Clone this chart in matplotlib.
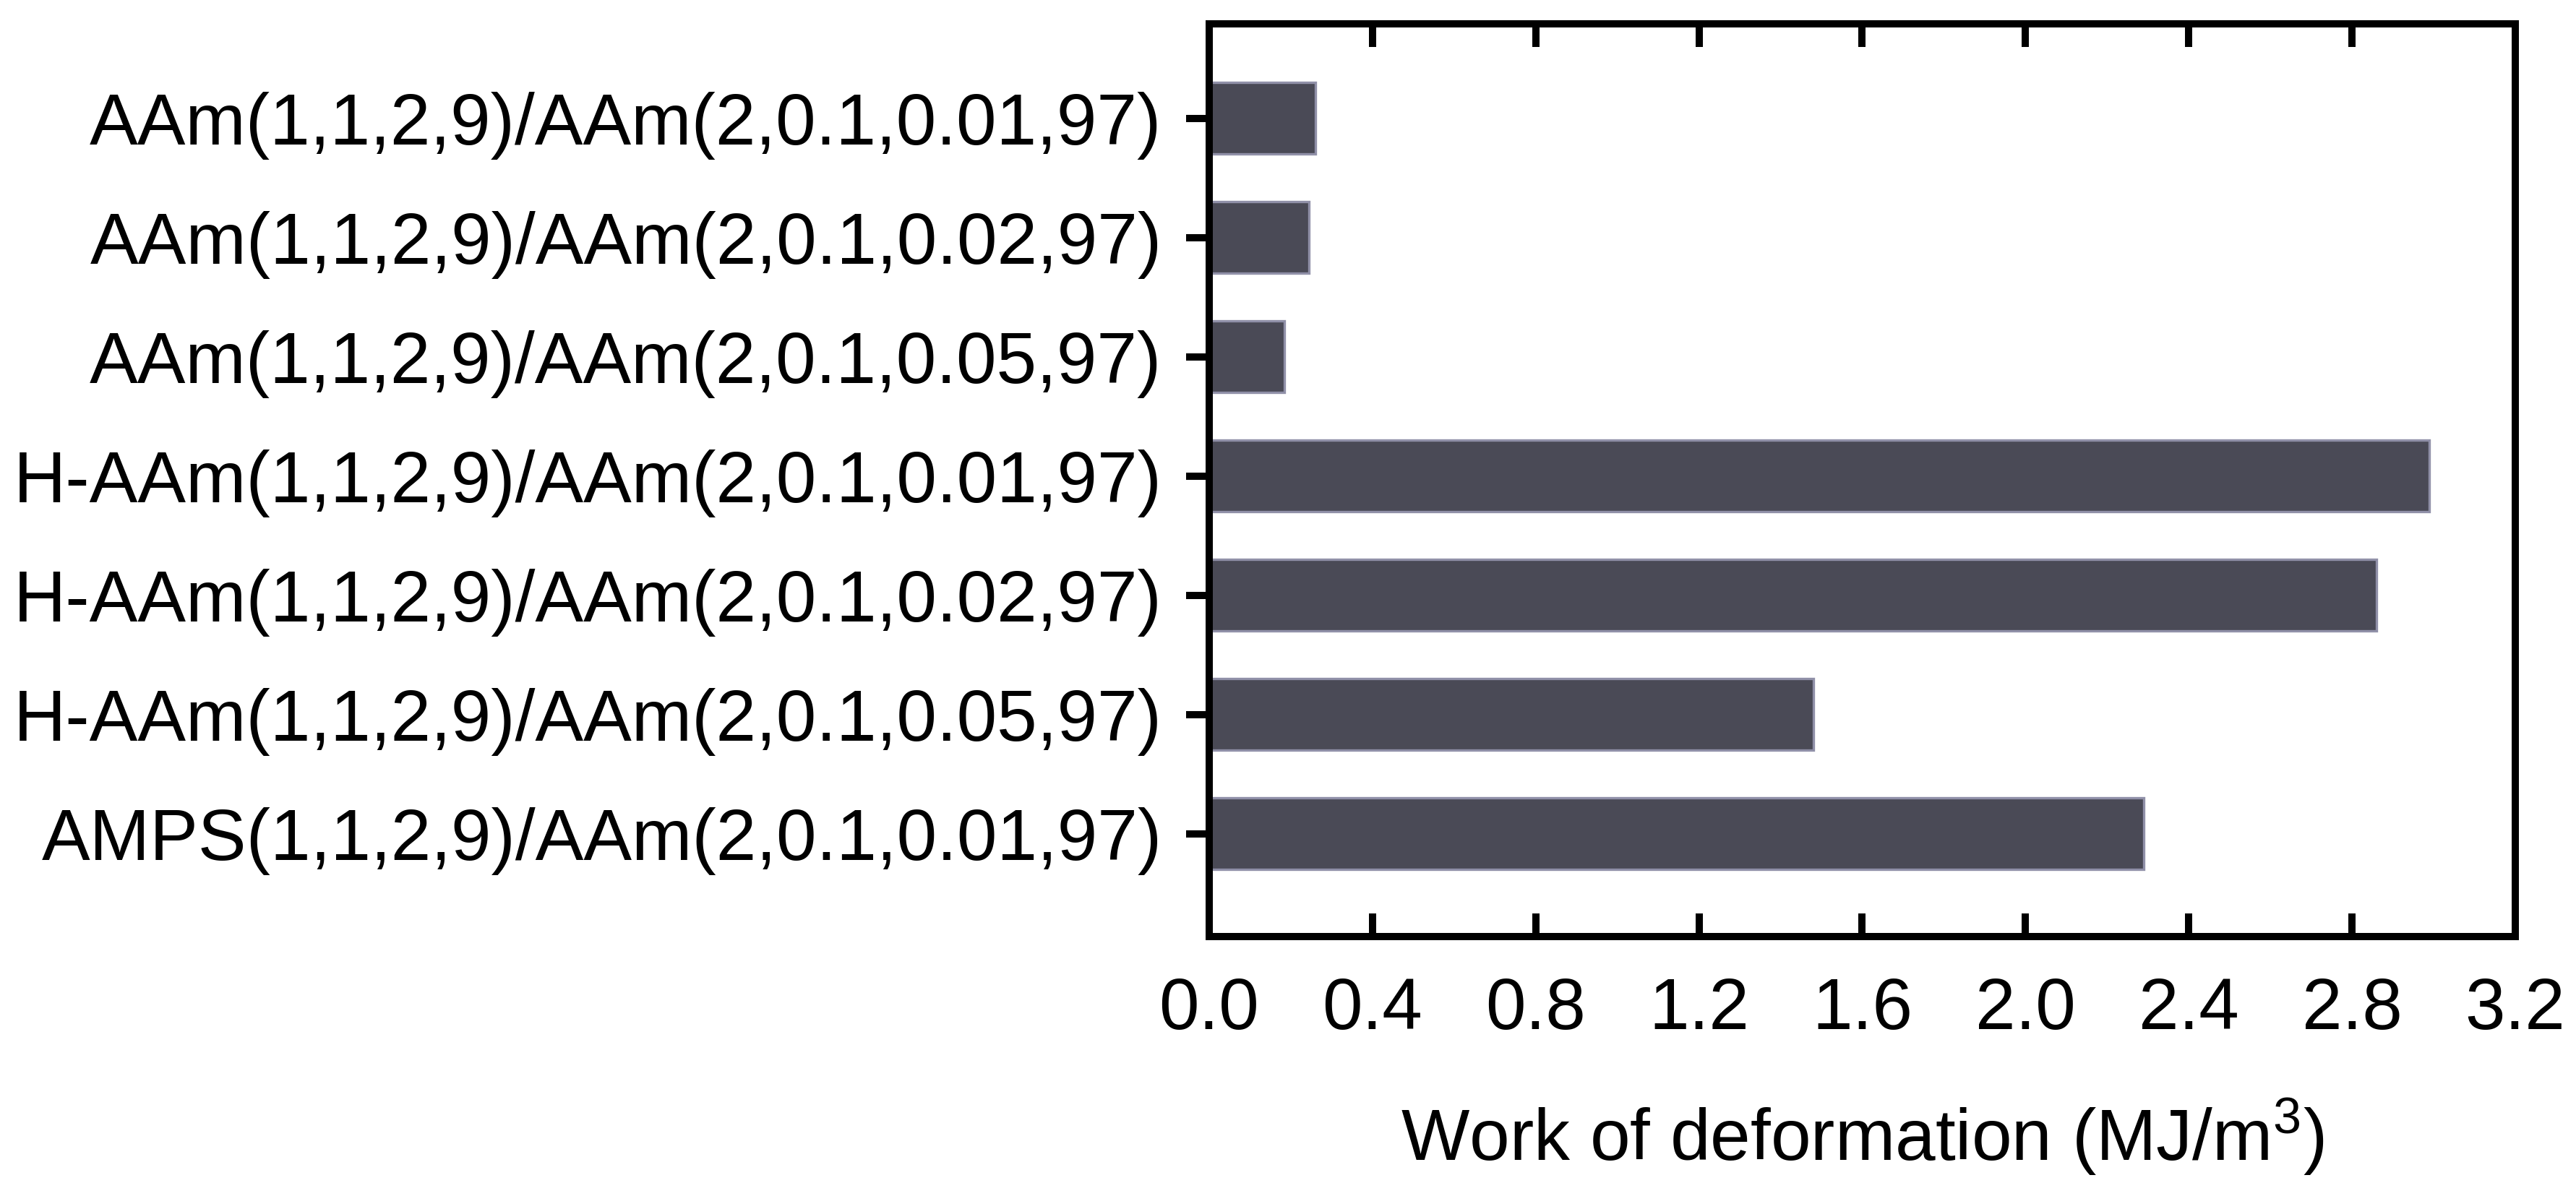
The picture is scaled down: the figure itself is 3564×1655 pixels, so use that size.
import matplotlib
matplotlib.use("Agg")
import matplotlib.pyplot as plt

plt.rcParams["font.family"] = ["Liberation Sans", "DejaVu Sans"]
plt.rcParams["mathtext.fontset"] = "custom"
plt.rcParams["mathtext.rm"] = "Liberation Sans"
plt.rcParams["mathtext.it"] = "Liberation Sans"

# categories from top to bottom
samples = [
    "AAm(1,1,2,9)/AAm(2,0.1,0.01,97)",
    "AAm(1,1,2,9)/AAm(2,0.1,0.02,97)",
    "AAm(1,1,2,9)/AAm(2,0.1,0.05,97)",
    "H-AAm(1,1,2,9)/AAm(2,0.1,0.01,97)",
    "H-AAm(1,1,2,9)/AAm(2,0.1,0.02,97)",
    "H-AAm(1,1,2,9)/AAm(2,0.1,0.05,97)",
    "AMPS(1,1,2,9)/AAm(2,0.1,0.01,97)",
]
work = [0.26, 0.245, 0.185, 2.99, 2.86, 1.48, 2.29]
xticks = [0.0, 0.4, 0.8, 1.2, 1.6, 2.0, 2.4, 2.8, 3.2]

fig = plt.figure(figsize=(17.82, 8.275), dpi=200)
ax = fig.add_axes([0.4694, 0.217, 0.5070, 0.763])

ypos = list(range(len(samples) - 1, -1, -1))
ax.barh(ypos, work, height=0.6, color="#4a4a56", edgecolor="#9090a8", linewidth=1.2)

ax.set_xlim(0, 3.2)
ax.set_ylim(-0.86, 6.79)
ax.set_xticks(xticks)
ax.set_xticklabels([f"{v:.1f}" for v in xticks])
ax.set_yticks(ypos)
ax.set_yticklabels(samples)

for s in ax.spines.values():
    s.set_linewidth(3.6)

ax.tick_params(axis="x", direction="in", length=11.5, width=3.6, labelsize=36,
               pad=20, top=True)
ax.tick_params(axis="y", direction="out", length=11.5, width=3.6, labelsize=36,
               pad=12, right=False)
ax.set_xlabel("Work of deformation (MJ/m$^3$)", fontsize=36, labelpad=26)

fig.savefig("out.png", dpi=200)
